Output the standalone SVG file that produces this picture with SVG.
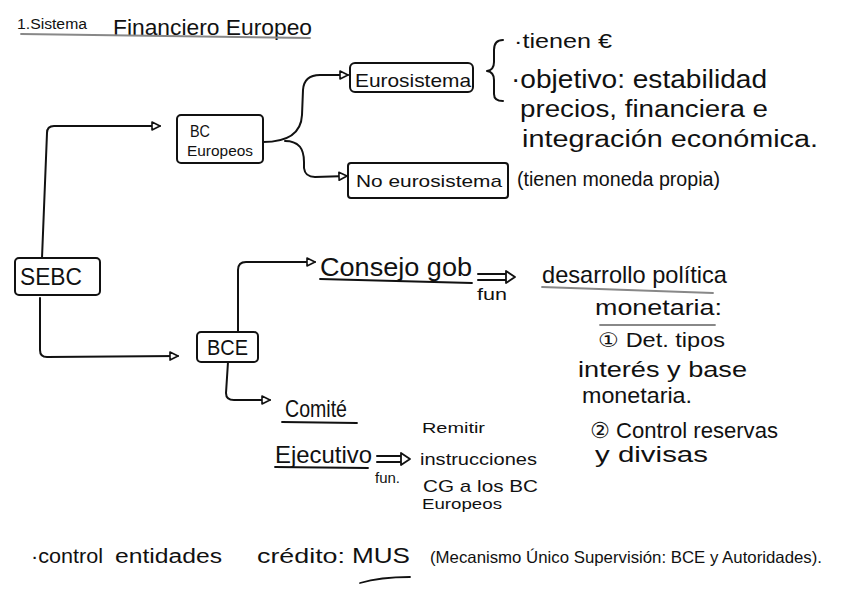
<svg xmlns="http://www.w3.org/2000/svg" width="848" height="599" viewBox="0 0 848 599">
<style>
text{font-family:"Liberation Sans","DejaVu Sans",sans-serif;fill:#111}
.box{fill:#fff;stroke:#111;stroke-width:2}
.ln{fill:none;stroke:#111;stroke-width:2;stroke-linecap:round;stroke-linejoin:round}
.ul{fill:none;stroke:#111;stroke-width:1.8;stroke-linecap:round}
.gul{fill:none;stroke:#888;stroke-width:1.8;stroke-linecap:round}
</style>
<defs>
<marker id="tri" markerWidth="10" markerHeight="10" refX="8" refY="4" orient="auto" markerUnits="userSpaceOnUse" overflow="visible">
<path d="M0,0 L8,4 L0,8 Z" fill="#fff" stroke="#111" stroke-width="1.6" stroke-linejoin="round"/>
</marker>
</defs>
<rect width="848" height="599" fill="#fff"/>

<g id="title">
<text x="17" y="29" font-size="14" textLength="70" lengthAdjust="spacingAndGlyphs">1.Sistema</text>
<text x="113" y="35" font-size="22" textLength="199" lengthAdjust="spacingAndGlyphs">Financiero Europeo</text>
<path class="gul" d="M21,34 L310,38"/>
</g>

<g id="connectors">
<path class="ln" d="M42,258 L47,133 Q47,126 54,126 L160,126" marker-end="url(#tri)"/>
<path class="ln" d="M40,298 L40,350 Q40,357 47,357 L178,356" marker-end="url(#tri)"/>
<path class="ln" d="M263,142 C283,142 301,136 302,115 L303,90 Q304,75 320,75 L348,75" marker-end="url(#tri)"/>
<path class="ln" d="M285,141 C300,141 304,150 304,162 L304,168 Q305,177 315,177 L347,176" marker-end="url(#tri)"/>
<path class="ln" d="M238,332 L238,270 Q238,262 246,262 L315,262" marker-end="url(#tri)"/>
<path class="ln" d="M228,362 L226,393 Q226,400 234,400 L270,400" marker-end="url(#tri)"/>
<path class="ln" d="M478,274 L506,274 M478,280 L506,280"/>
<path d="M506,271 L515,277 L506,283 Z" fill="#fff" stroke="#111" stroke-width="1.8" stroke-linejoin="round"/>
<path class="ln" d="M377,456 L401,456 M377,462 L401,462"/>
<path d="M401,453 L410,459 L401,465 Z" fill="#fff" stroke="#111" stroke-width="1.8" stroke-linejoin="round"/>
<path class="ln" d="M503,40 Q494,40 494,50 L494,62 Q494,70 487,71 Q494,72 494,80 L494,94 Q494,101 503,101"/>
</g>

<g id="n-sebc">
<rect class="box" x="15" y="258" width="85" height="37" rx="4"/>
<text x="20" y="285" font-size="24" textLength="62" lengthAdjust="spacingAndGlyphs">SEBC</text>
</g>

<g id="n-bc-europeos">
<rect class="box" x="177" y="115" width="86" height="48" rx="4"/>
<text x="190" y="137" font-size="16" textLength="20" lengthAdjust="spacingAndGlyphs">BC</text>
<text x="187" y="156" font-size="15" textLength="66" lengthAdjust="spacingAndGlyphs">Europeos</text>
</g>

<g id="n-eurosistema">
<rect class="box" x="350" y="63" width="123" height="29" rx="5"/>
<text x="355" y="87" font-size="19" textLength="116" lengthAdjust="spacingAndGlyphs">Eurosistema</text>
</g>

<g id="n-eurosistema-notes">
<text x="514" y="48" font-size="20" textLength="98" lengthAdjust="spacingAndGlyphs">·tienen €</text>
<text x="511" y="88" font-size="25" textLength="256" lengthAdjust="spacingAndGlyphs">·objetivo: estabilidad</text>
<text x="520" y="117" font-size="23" textLength="248" lengthAdjust="spacingAndGlyphs">precios, financiera e</text>
<text x="522" y="147" font-size="23" textLength="296" lengthAdjust="spacingAndGlyphs">integración económica.</text>
</g>

<g id="n-no-eurosistema">
<rect class="box" x="348" y="163" width="160" height="35" rx="3"/>
<text x="356" y="187" font-size="17" textLength="146" lengthAdjust="spacingAndGlyphs">No eurosistema</text>
<text x="517" y="186" font-size="20" textLength="203" lengthAdjust="spacingAndGlyphs">(tienen moneda propia)</text>
</g>

<g id="n-bce">
<rect class="box" x="197" y="332" width="61" height="30" rx="4"/>
<text x="207" y="355" font-size="22" textLength="41" lengthAdjust="spacingAndGlyphs">BCE</text>
</g>

<g id="n-consejo">
<text x="320" y="276" font-size="26" textLength="152" lengthAdjust="spacingAndGlyphs">Consejo gob</text>
<path class="ul" d="M320,279 L472,283"/>
<text x="477" y="300" font-size="17" textLength="30" lengthAdjust="spacingAndGlyphs">fun</text>
</g>

<g id="n-consejo-fun">
<text x="542" y="283" font-size="24" textLength="185" lengthAdjust="spacingAndGlyphs">desarrollo política</text>
<path class="gul" d="M542,287 L713,293"/>
<text x="595" y="315" font-size="22" textLength="127" lengthAdjust="spacingAndGlyphs">monetaria:</text>
<path class="gul" d="M600,325 L715,325"/>
<text x="598" y="347" font-size="20" textLength="127" lengthAdjust="spacingAndGlyphs">① Det. tipos</text>
<text x="578" y="377" font-size="22" textLength="169" lengthAdjust="spacingAndGlyphs">interés y base</text>
<text x="582" y="403" font-size="22" textLength="110" lengthAdjust="spacingAndGlyphs">monetaria.</text>
<text x="590" y="438" font-size="22" textLength="188" lengthAdjust="spacingAndGlyphs">② Control reservas</text>
<text x="595" y="462" font-size="22" textLength="113" lengthAdjust="spacingAndGlyphs">y divisas</text>
</g>

<g id="n-comite">
<text x="285" y="417" font-size="24" textLength="62" lengthAdjust="spacingAndGlyphs">Comité</text>
<path class="ul" d="M282,422 L357,423"/>
<text x="275" y="463" font-size="24" textLength="97" lengthAdjust="spacingAndGlyphs">Ejecutivo</text>
<path class="ul" d="M275,467 L368,468"/>
<text x="375" y="483" font-size="15" textLength="25" lengthAdjust="spacingAndGlyphs">fun.</text>
</g>

<g id="n-comite-fun">
<text x="422" y="433" font-size="15" textLength="63" lengthAdjust="spacingAndGlyphs">Remitir</text>
<text x="420" y="465" font-size="17" textLength="117" lengthAdjust="spacingAndGlyphs">instrucciones</text>
<text x="423" y="492" font-size="17" textLength="115" lengthAdjust="spacingAndGlyphs">CG a los BC</text>
<text x="422" y="509" font-size="15" textLength="80" lengthAdjust="spacingAndGlyphs">Europeos</text>
</g>

<g id="n-mus">
<text x="31" y="563" font-size="20" textLength="72" lengthAdjust="spacingAndGlyphs">·control</text>
<text x="115" y="563" font-size="20" textLength="107" lengthAdjust="spacingAndGlyphs">entidades</text>
<text x="257" y="563" font-size="20" textLength="88" lengthAdjust="spacingAndGlyphs">crédito:</text>
<text x="352" y="563" font-size="22" textLength="58" lengthAdjust="spacingAndGlyphs">MUS</text>
<path class="ul" d="M360,583 Q380,577 410,577"/>
<text x="430" y="563" font-size="16.5" textLength="392" lengthAdjust="spacingAndGlyphs">(Mecanismo Único Supervisión: BCE y Autoridades).</text>
</g>
</svg>
